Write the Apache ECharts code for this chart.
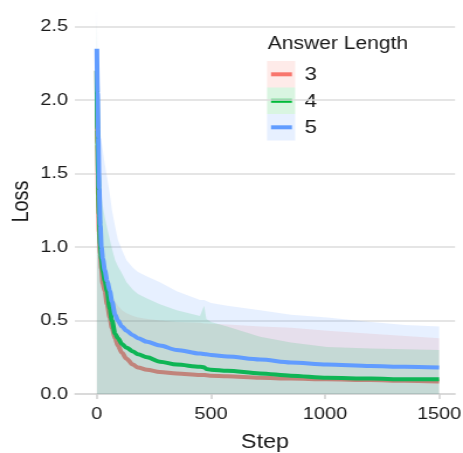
<!DOCTYPE html>
<html>
<head>
    <meta charset="utf-8" />
    <title>Loss by answer length</title>
    <script src="https://cdn.jsdelivr.net/npm/echarts@6/dist/echarts.min.js"></script>
</head>
<body style="margin:0;overflow:hidden">
    <!-- the reference is stretched sideways (text looks wide), so draw narrower and stretch -->
    <div id="main" style="width: 396px;height:453px;transform:scaleX(1.1692);transform-origin:0 0;"></div>

    <script type="text/javascript">
        // training steps (shared by all series)
        var steps = [0, 3, 6, 10, 15, 20, 26, 35, 45, 57, 66, 80, 92, 110, 130, 158, 180, 220, 276, 350,
                     452, 470, 480, 500, 571, 715, 850, 1009, 1200, 1350, 1500];

        // mean loss per answer length
        var loss3 = [2.20, 1.70, 1.35, 1.10, 0.95, 0.85, 0.75, 0.70, 0.61, 0.52, 0.45, 0.38, 0.33, 0.28, 0.24, 0.20, 0.18, 0.165, 0.15, 0.14,
                     0.13, 0.13, 0.128, 0.125, 0.12, 0.11, 0.105, 0.10, 0.095, 0.09, 0.085];
        var loss4 = [2.20, 1.80, 1.50, 1.22, 1.02, 0.92, 0.84, 0.77, 0.70, 0.58, 0.50, 0.41, 0.38, 0.34, 0.315, 0.29, 0.27, 0.25, 0.22, 0.20,
                     0.185, 0.182, 0.17, 0.165, 0.158, 0.14, 0.125, 0.11, 0.105, 0.10, 0.10];
        var loss5 = [2.35, 2.05, 1.75, 1.40, 1.15, 1.00, 0.92, 0.84, 0.77, 0.70, 0.63, 0.54, 0.50, 0.46, 0.43, 0.40, 0.38, 0.355, 0.33, 0.30,
                     0.275, 0.272, 0.27, 0.265, 0.255, 0.235, 0.215, 0.20, 0.19, 0.185, 0.18];

        // upper edge of the spread ribbons (lower edge sits at 0)
        var upper3 = [2.40, 1.60, 1.35, 1.15, 1.00, 0.92, 0.86, 0.80, 0.75, 0.70, 0.67, 0.63, 0.60, 0.57, 0.55, 0.53, 0.52, 0.51, 0.50, 0.49,
                      0.485, 0.48, 0.48, 0.478, 0.473, 0.46, 0.45, 0.43, 0.41, 0.395, 0.38];
        var upper4 = [2.55, 2.00, 1.75, 1.55, 1.42, 1.35, 1.28, 1.20, 1.13, 1.05, 0.99, 0.91, 0.87, 0.82, 0.76, 0.71, 0.68, 0.65, 0.61, 0.57,
                      0.53, 0.60, 0.51, 0.49, 0.46, 0.39, 0.35, 0.32, 0.31, 0.305, 0.30];
        var upper5 = [2.62, 2.15, 2.00, 1.88, 1.78, 1.72, 1.66, 1.56, 1.47, 1.36, 1.25, 1.14, 1.05, 0.98, 0.91, 0.86, 0.83, 0.80, 0.76, 0.70,
                      0.64, 0.64, 0.63, 0.62, 0.60, 0.57, 0.54, 0.52, 0.49, 0.47, 0.46];

        var lengths = ['3', '4', '5'];
        var colors = ['#F8766D', '#00BA38', '#619CFF'];
        var xTicks = [0, 500, 1000, 1500];

        var means = [loss3, loss4, loss5];
        var uppers = [upper3, upper4, upper5];

        function pairs(vals) {
            return steps.map(function (s, i) { return [s, vals[i]]; });
        }

        var series = [];
        lengths.forEach(function (name, k) {
            // ribbon, then its line; later ribbons wash over earlier lines
            series.push({
                type: 'line', name: name + ' band', data: pairs(uppers[k]),
                symbol: 'none', lineStyle: { width: 0 },
                areaStyle: { color: colors[k], opacity: 0.15, origin: 'start' },
                z: 2 + 2 * k, silent: true
            });
            series.push({
                type: 'line', name: name, data: pairs(means[k]),
                symbol: 'none', smooth: 0.3, smoothMonotone: 'x',
                lineStyle: { width: 4, color: colors[k] },
                z: 3 + 2 * k, silent: true
            });
        });

        var txt = '#1a1a1a';
        var font = 'Liberation Sans, Arial, sans-serif';

        // legend by hand: light key box with a line in it
        var graphic = [{
            type: 'text', left: 229, top: 35,
            style: { text: 'Answer Length', fill: txt, font: '18px ' + font }
        }];
        lengths.forEach(function (name, k) {
            var y0 = 61 + k * 26.5;
            graphic.push({
                type: 'rect', shape: { x: 228.4, y: y0, width: 24, height: 26.5 },
                style: { fill: colors[k], opacity: 0.15 }
            });
            graphic.push({
                type: 'line', shape: { x1: 231.8, y1: y0 + 13.3, x2: 249.7, y2: y0 + 13.3 },
                style: { stroke: colors[k], lineWidth: 4 }
            });
            graphic.push({
                type: 'text', x: 260.5, y: y0 + 14,
                style: { text: name, fill: txt, font: '19px ' + font, verticalAlign: 'middle' }
            });
        });

        var myChart = echarts.init(document.getElementById('main'));

        var option = {
            animation: false,
            backgroundColor: '#fff',
            textStyle: { fontFamily: font },
            grid: { left: 64.1, right: 6.8, top: 9, bottom: 59, outerBoundsMode: 'none', containLabel: false },
            xAxis: {
                type: 'value', min: -96, max: 1570,
                name: 'Step', nameLocation: 'middle', nameGap: 38, nameMoveOverlap: false,
                nameTextStyle: { color: txt, fontSize: 20 },
                axisLine: { show: true, onZero: false, lineStyle: { color: '#d6d6d6', width: 1.5 } },
                axisTick: { show: true, length: 5, customValues: xTicks, lineStyle: { color: '#cfcfcf', width: 1.5 } },
                axisLabel: {
                    customValues: xTicks, color: txt, fontSize: 17, margin: 12,
                    formatter: function (v) { return String(v); }
                },
                splitLine: { show: false }
            },
            yAxis: {
                type: 'value', min: 0, max: 2.62, interval: 0.5,
                name: 'Loss', nameLocation: 'middle', nameGap: 36, nameRotate: 90, nameMoveOverlap: false,
                nameTextStyle: { color: txt, fontSize: 20 },
                axisLine: { show: false },
                axisTick: { show: false },
                axisLabel: {
                    color: txt, fontSize: 17, margin: 6, showMaxLabel: false,
                    formatter: function (v) { return v.toFixed(1); }
                },
                splitLine: { show: true, showMaxLine: false, lineStyle: { color: '#dcdcdc', width: 1.5 } }
            },
            graphic: graphic,
            series: series
        };

        myChart.setOption(option);
    </script>
</body>
</html>
